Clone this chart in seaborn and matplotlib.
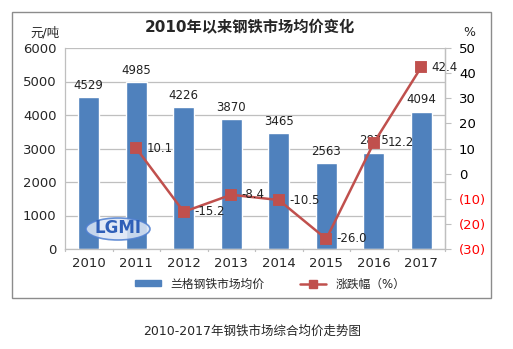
import matplotlib
matplotlib.use("Agg")
import matplotlib.pyplot as plt
import seaborn as sns
import pandas as pd
from matplotlib.patches import Rectangle, Ellipse
from matplotlib.lines import Line2D
from matplotlib.patches import Patch

years = ["2010", "2011", "2012", "2013", "2014", "2015", "2016", "2017"]
price = [4529, 4985, 4226, 3870, 3465, 2563, 2875, 4094]
chg_years = ["2011", "2012", "2013", "2014", "2015", "2016", "2017"]
chg = [10.1, -15.2, -8.4, -10.5, -26.0, 12.2, 42.4]
left_ticks = [0, 1000, 2000, 3000, 4000, 5000, 6000]
right_ticks = [-30, -20, -10, 0, 10, 20, 30, 40, 50]
right_labels = ["(30)", "(20)", "(10)", "0", "10", "20", "30", "40", "50"]

sns.set_style("white")
plt.rcParams['font.family'] = ['DejaVu Sans', 'Noto Sans CJK SC']

BLUE = "#4F81BD"
RED = "#C0504D"

fig = plt.figure(figsize=(5.13, 3.49), dpi=100)
ax = fig.add_axes([65/513, 1-249/349, (445-65)/513, (249-48)/349])

df_bar = pd.DataFrame({"year": years, "price": price})
df_line = pd.DataFrame({"year": chg_years, "chg": chg})

sns.barplot(data=df_bar, x="year", y="price", order=years, color=BLUE,
            width=0.45, saturation=1, ax=ax, zorder=2)
ax.set_ylim(0, 6000)
ax.set_yticks(left_ticks)
ax.set_yticklabels([str(t) for t in left_ticks], fontsize=9.5)
ax.tick_params(axis='x', labelsize=9.5, length=0, pad=6)
ax.tick_params(axis='y', length=0, pad=6)
ax.set_xlabel("")
ax.set_ylabel("")
ax.grid(axis='y', color="#BFBFBF", linewidth=0.9, zorder=0)
ax.set_axisbelow(True)
ax.spines["top"].set_visible(False)
for s in ["left", "bottom", "right"]:
    ax.spines[s].set_color("#BFBFBF")
    ax.spines[s].set_linewidth(0.9)
for i in range(len(years) + 1):
    ax.plot([i - 0.5, i - 0.5], [0, -70], color="#BFBFBF", lw=0.9, clip_on=False)

for i, v in enumerate(price):
    ax.text(i, v + 160, str(v), ha='center', va='bottom', fontsize=8.5, color="#222222")

ax2 = ax.twinx()
sns.pointplot(data=df_line, x="year", y="chg", order=years, color=RED,
              markers='s', markersize=7, linewidth=1.8, ax=ax2)
ax2.set_ylim(-30, 50)
ax2.set_yticks(right_ticks)
ax2.set_yticklabels(right_labels, fontsize=9.5)
for lbl, t in zip(ax2.get_yticklabels(), right_ticks):
    lbl.set_color("#FF0000" if t < 0 else "black")
ax2.tick_params(axis='y', length=4, color="#BFBFBF", pad=6, direction='out')
ax2.set_xlabel("")
ax2.set_ylabel("")
for s in ["top", "left", "bottom"]:
    ax2.spines[s].set_visible(False)
ax2.spines["right"].set_color("#BFBFBF")
ax2.spines["right"].set_linewidth(0.9)

for y, v in zip(chg_years, chg):
    i = years.index(y)
    dx = 0.3 if y == "2016" else 0.22
    ax2.text(i + dx, v, f"{v:.1f}", ha='left', va='center', fontsize=8.5, color="#222222")

# logo
fig.patches.append(Ellipse((118/513, 1-229/349), 64/513, 22/349,
                           transform=fig.transFigure, facecolor="#DCE6F5",
                           edgecolor="#4F7FD0", linewidth=1.2, alpha=0.85, zorder=5))
fig.text(118/513, 1-228/349, "LGMI", ha='center', va='center', fontsize=12,
         fontweight='bold', color="#2F5FB8", zorder=6)

# titles
fig.text(250/513, 1-28/349, "2010年以来钢铁市场均价变化", ha='center', va='center',
         fontsize=11, fontweight='bold')
fig.text(45/513, 1-33/349, "元/吨", ha='center', va='center', fontsize=9)
fig.text(469/513, 1-33/349, "%", ha='center', va='center', fontsize=9)

# legend
handles = [Patch(facecolor=BLUE, edgecolor=BLUE),
           Line2D([0], [0], color=RED, marker='s', markersize=6, lw=1.8)]
fig.legend(handles, ["兰格钢铁市场均价", "涨跌幅（%）"], loc='center',
           bbox_to_anchor=(270/513, 1-284/349), ncol=2, frameon=False,
           fontsize=8.5, handlelength=2.2, columnspacing=3, handleheight=0.4)

# outer frame
fig.patches.append(Rectangle((12/513, 1-298/349), (491-12)/513, (298-12)/349,
                             transform=fig.transFigure, fill=False,
                             edgecolor="#8C8C8C", linewidth=1.0))

fig.text(252/513, 1-331/349, "2010-2017年钢铁市场综合均价走势图", ha='center',
         va='center', fontsize=9)

fig.savefig("out.png", dpi=100)
